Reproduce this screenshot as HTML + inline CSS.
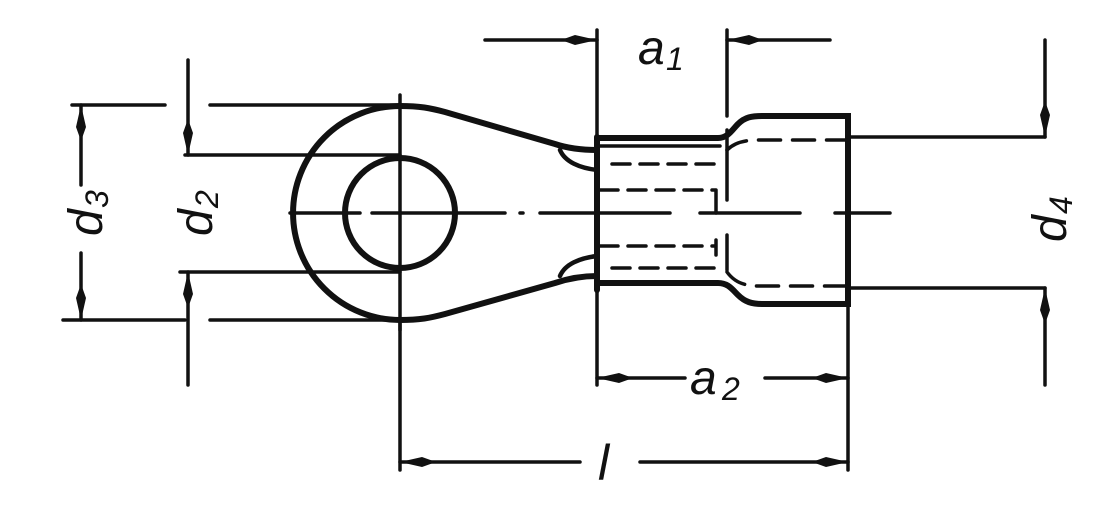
<!DOCTYPE html>
<html><head><style>
html,body{margin:0;padding:0;background:#fff}
svg{display:block}
text{font-family:"Liberation Sans",sans-serif;font-style:italic;fill:#111}
</style></head><body>
<svg width="1099" height="519" viewBox="0 0 1099 519" xmlns="http://www.w3.org/2000/svg">
<defs>
<marker id="ah" viewBox="0 0 36 12" refX="36" refY="6" markerWidth="36" markerHeight="12" markerUnits="userSpaceOnUse" orient="auto">
<path d="M0,6 L14,1 L36,6 L14,11 Z" fill="#111"/>
</marker>
</defs>
<g stroke="#111" fill="none" stroke-linecap="round">
<g stroke-width="3.5">
<line x1="72" y1="105" x2="165" y2="105"/><line x1="210" y1="105" x2="400" y2="105"/>
<line x1="63" y1="320" x2="185" y2="320"/><line x1="210" y1="320" x2="400" y2="320"/>
<line x1="185" y1="155" x2="400" y2="155"/>
<line x1="180" y1="272" x2="400" y2="272"/>
<line x1="848" y1="137" x2="1045" y2="137"/>
<line x1="848" y1="288" x2="1045" y2="288"/>
<line x1="597" y1="30" x2="597" y2="385"/>
<line x1="727" y1="30" x2="727" y2="116"/>
<line x1="848" y1="116" x2="848" y2="470"/>
<line x1="400" y1="320" x2="400" y2="470"/>
<line x1="400" y1="95" x2="400" y2="330"/>
<line x1="290" y1="213" x2="360" y2="213"/>
</g>
<g stroke-width="3.5">
<line x1="81" y1="185" x2="81" y2="105" marker-end="url(#ah)"/>
<line x1="81" y1="253" x2="81" y2="320" marker-end="url(#ah)"/>
<line x1="188" y1="60" x2="188" y2="155" marker-end="url(#ah)"/>
<line x1="188" y1="385" x2="188" y2="272" marker-end="url(#ah)"/>
<line x1="1045" y1="40" x2="1045" y2="137" marker-end="url(#ah)"/>
<line x1="1045" y1="385" x2="1045" y2="288" marker-end="url(#ah)"/>
<line x1="485" y1="40" x2="597" y2="40" marker-end="url(#ah)"/>
<line x1="830" y1="40" x2="727" y2="40" marker-end="url(#ah)"/>
<line x1="685" y1="378" x2="597" y2="378" marker-end="url(#ah)"/>
<line x1="765" y1="378" x2="848" y2="378" marker-end="url(#ah)"/>
<line x1="580" y1="462" x2="400" y2="462" marker-end="url(#ah)"/>
<line x1="640" y1="462" x2="848" y2="462" marker-end="url(#ah)"/>
</g>
<path d="M372,213 H505 M520,213 H523 M540,213 H670 M700,213 H800 M835,213 H890" stroke-width="3.5"/>
<g stroke-width="6">
<circle cx="400" cy="213" r="55"/>
<path d="M400,106 A107,107 0 0 0 400,320"/>
<path d="M400,106 C420,106 430,108 445,112 L555,144 C570,149 585,150 597,150"/>
<path d="M400,320 C420,320 430,318 445,314 L555,283 C570,278 585,276 597,276"/>
<path d="M560,150 C565,162 580,168 597,170 M560,276 C565,264 580,258 597,256" stroke-width="4.5"/>
<line x1="597" y1="137" x2="597" y2="290"/>
<path d="M597,138 H718 C728,138 732,130 738,124 C745,117 752,116 762,116 H848 V304 H762 C752,304 745,302 738,295 C732,289 728,283 718,283 H597"/>
<line x1="597" y1="146" x2="720" y2="146" stroke-width="3.5"/>
</g>
<g stroke-width="3.5" stroke-dasharray="18,10">
<line x1="612" y1="164" x2="720" y2="164"/>
<line x1="600" y1="190" x2="715" y2="190"/>
<line x1="600" y1="246" x2="715" y2="246"/>
<line x1="612" y1="268" x2="720" y2="268"/>
<path d="M727,150 C735,142 745,140 760,140 H848" stroke-dasharray="22,12"/>
<path d="M727,272 C735,283 745,286 760,286 H848" stroke-dasharray="22,12"/>
</g>
<path d="M727,130 V200 M716,190 V213 M716,240 V255 M727,235 V270" stroke-width="3.5"/>
</g>
<text x="638" y="64" font-size="48">a</text><text x="666" y="70" font-size="32">1</text>
<text x="690" y="394" font-size="48">a</text><text x="722" y="400" font-size="32">2</text>
<text x="598" y="480" font-size="50">l</text>
<g transform="translate(102,236) rotate(-90)"><text font-size="48">d</text><text x="28" y="6" font-size="32">3</text></g>
<g transform="translate(212,236) rotate(-90)"><text font-size="48">d</text><text x="28" y="6" font-size="32">2</text></g>
<g transform="translate(1066,242) rotate(-90)"><text font-size="48">d</text><text x="28" y="6" font-size="32">4</text></g>
</svg>
</body></html>
